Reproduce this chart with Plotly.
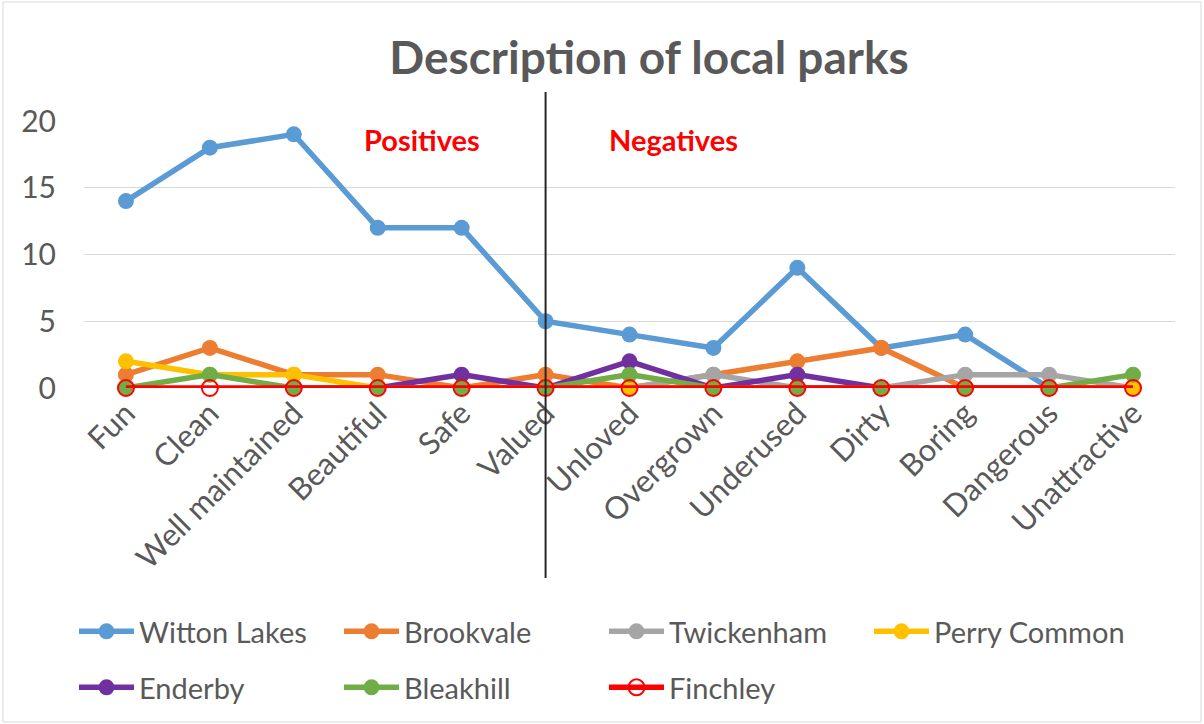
import plotly.graph_objects as go

categories = ["Fun", "Clean", "Well maintained", "Beautiful", "Safe", "Valued",
              "Unloved", "Overgrown", "Underused", "Dirty", "Boring", "Dangerous", "Unattractive"]

witton_lakes = [14, 18, 19, 12, 12, 5, 4, 3, 9, 3, 4, 0, 0]
brookvale    = [1, 3, 1, 1, 0, 1, 0, 1, 2, 3, 0, 0, 0]
twickenham   = [0, None, 0, 0, 0, 0, 0, 1, 0, 0, 1, 1, 0]
perry_common = [2, 1, 1, 0, 0, 0, 0, 0, 0, 0, 0, 0, 0]
enderby      = [0, None, 0, 0, 1, 0, 2, 0, 1, 0, 0, 0, None]
bleakhill    = [0, 1, 0, 0, 0, 0, 1, 0, 0, 0, 0, 0, 1]
finchley     = [0, 0, 0, 0, 0, 0, 0, 0, 0, 0, 0, 0, 0]

series = [
    ("Witton Lakes", witton_lakes, "#5B9BD5", "legend"),
    ("Brookvale", brookvale, "#ED7D31", "legend"),
    ("Twickenham", twickenham, "#A5A5A5", "legend"),
    ("Perry Common", perry_common, "#FFC000", "legend"),
    ("Enderby", enderby, "#7030A0", "legend2"),
    ("Bleakhill", bleakhill, "#70AD47", "legend2"),
]

FONT = "Lato, 'Open Sans', sans-serif"
GREY = "#595959"

fig = go.Figure()
for name, vals, col, lg in series:
    fig.add_trace(go.Scatter(
        x=categories, y=vals, name=name, mode="lines+markers",
        line=dict(color=col, width=5.5),
        marker=dict(color=col, size=16, symbol="circle"),
        cliponaxis=False, legend=lg,
    ))
fig.add_trace(go.Scatter(
    x=categories, y=finchley, name="Finchley", mode="lines+markers",
    line=dict(color="#FF0000", width=5.5),
    marker=dict(color="#FF0000", size=16, symbol="circle-open", line=dict(width=2)),
    cliponaxis=False, legend="legend2",
))

L, R, T, B = 84, 29, 121, 336
W, H = 1204, 724
pw, ph = W - L - R, H - T - B

def px_x(px):
    return (px - L) / pw

def px_y(py):
    return (H - B - py) / ph

legend_common = dict(orientation="h", xref="container", yref="container",
                     xanchor="left", yanchor="top", entrywidth=195, entrywidthmode="pixels",
                     itemwidth=55, font=dict(size=29, color=GREY), bgcolor="rgba(0,0,0,0)")

fig.update_layout(
    width=W, height=H,
    margin=dict(l=L, r=R, t=T, b=B),
    paper_bgcolor="white", plot_bgcolor="white",
    font=dict(family=FONT, color=GREY, size=29),
    title=dict(text="<b>Description of local parks</b>", x=649 / W, xref="container",
               xanchor="center", y=1 - 58 / H, yref="container", yanchor="middle",
               font=dict(family=FONT, size=46, color=GREY)),
    xaxis=dict(type="category", range=[-0.5, 12.5], showgrid=False, zeroline=False,
               showline=False, tickangle=-45, ticks="", tickfont=dict(size=31, color=GREY)),
    yaxis=dict(range=[0, 20], tickvals=[0, 5, 10, 15, 20], gridcolor="#D9D9D9", gridwidth=1,
               zeroline=False, showline=False, ticks="", ticklabelstandoff=27,
               tickfont=dict(size=30, color=GREY)),
    legend=dict(legend_common, x=74 / W, y=1 - 606 / H),
    legend2=dict(legend_common, x=74 / W, y=1 - 662 / H),
    showlegend=True,
)

fig.add_shape(type="line", xref="x", yref="paper", x0=5, x1=5,
              y0=px_y(578), y1=px_y(92), line=dict(color="#262626", width=2), layer="above")

fig.add_shape(type="rect", xref="paper", yref="paper",
              x0=px_x(3), x1=px_x(1201), y0=px_y(722), y1=px_y(2),
              line=dict(color="#D9D9D9", width=1), fillcolor="rgba(0,0,0,0)", layer="below")

fig.add_annotation(text="<b>Positives</b>", x=3.53, y=18.6, xref="x", yref="y",
                   showarrow=False, font=dict(family=FONT, size=29, color="#FF0000"))
fig.add_annotation(text="<b>Negatives</b>", x=6.52, y=18.6, xref="x", yref="y",
                   showarrow=False, font=dict(family=FONT, size=29, color="#FF0000"))

fig.write_html("out.html")
